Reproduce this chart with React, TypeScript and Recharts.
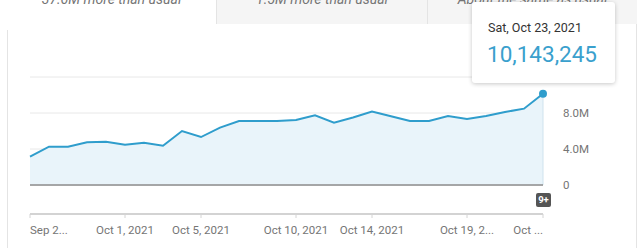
import React from 'react';
import { AreaChart, Area, XAxis, YAxis, CartesianGrid, ReferenceLine } from 'recharts';

const dates = [
    'Sep 26', 'Sep 27', 'Sep 28', 'Sep 29', 'Sep 30', 'Oct 1', 'Oct 2', 'Oct 3', 'Oct 4', 'Oct 5',
    'Oct 6', 'Oct 7', 'Oct 8', 'Oct 9', 'Oct 10', 'Oct 11', 'Oct 12', 'Oct 13', 'Oct 14', 'Oct 15',
    'Oct 16', 'Oct 17', 'Oct 18', 'Oct 19', 'Oct 20', 'Oct 21', 'Oct 22', 'Oct 23',
];
const views = [
    3140000, 4260000, 4260000, 4740000, 4810000, 4480000, 4700000, 4370000, 6000000, 5330000,
    6370000, 7110000, 7110000, 7110000, 7220000, 7740000, 6930000, 7500000, 8150000, 7630000,
    7110000, 7110000, 7670000, 7330000, 7670000, 8110000, 8480000, 10143245,
];
const tickDates = ['Sep 26', 'Oct 1', 'Oct 5', 'Oct 10', 'Oct 14', 'Oct 19', 'Oct 23'];
const tickLabels = ['Sep 2...', 'Oct 1, 2021', 'Oct 5, 2021', 'Oct 10, 2021', 'Oct 14, 2021', 'Oct 19, 2...', 'Oct ...'];
const yTicks = [0, 4000000, 8000000, 12000000];
const tabLabels = ['37.6M more than usual', '1.5M more than usual', 'About the same as usual'];
const tooltipDate = 'Sat, Oct 23, 2021';

const data = dates.map((d, i) => ({ date: d, views: views[i] }));
const last = data[data.length - 1];

const LINE = '#2f9dcc';

const formatY = (v: number) => (v === 0 ? '0' : (v / 1000000).toFixed(1) + 'M');

const DateTick = (props: any) => {
    const { x, y, payload, index } = props;
    const i = tickDates.indexOf(payload.value);
    const anchor = index === 0 ? 'start' : index === tickDates.length - 1 ? 'end' : 'middle';
    return (
        <text x={x} y={y} dy="0.35em" textAnchor={anchor} fill="#757575" fontSize={11.5}>
            {tickLabels[i]}
        </text>
    );
};

const LastDot = (props: any) => {
    const { cx, cy, index } = props;
    if (index !== data.length - 1) return <g key={index} />;
    return <circle key={index} cx={cx} cy={cy} r={4} fill={LINE} stroke="none" />;
};

const tabStyle = (left: number, width: number, grey: boolean): React.CSSProperties => ({
    position: 'absolute',
    left,
    top: 0,
    width,
    height: grey ? 24 : 30,
    background: grey ? '#f5f5f5' : '#fff',
    borderLeft: left > 7 ? '1px solid #e4e4e4' : 'none',
    boxSizing: 'border-box',
    overflow: 'hidden',
});

export default function App() {
    const tabs = [
        { left: 7, width: 209, grey: false },
        { left: 216, width: 211, grey: true },
        { left: 427, width: 210, grey: true },
    ];
    return (
        <div style={{ position: 'absolute', left: 0, top: 0, width: 640, height: 248, background: '#fff', overflow: 'hidden', fontFamily: 'Roboto, sans-serif' }}>
            <div style={{ position: 'absolute', left: 7, top: 0, width: 630, height: 248, borderLeft: '1px solid #e4e4e4', borderRight: '1px solid #e4e4e4', boxSizing: 'border-box' }} />
            {tabs.map((t, i) => (
                <div key={i} style={tabStyle(t.left, t.width, t.grey)}>
                    <div style={{ position: 'absolute', left: 0, right: 0, top: -10, textAlign: 'center', fontStyle: 'italic', fontSize: 14, lineHeight: '18px', color: '#757575' }}>
                        {tabLabels[i]}
                    </div>
                </div>
            ))}
            <div style={{ position: 'absolute', left: 0, top: 0 }}>
                <AreaChart width={640} height={248} data={data} margin={{ top: 77, right: 0, left: 30, bottom: 4 }}>
                    <CartesianGrid vertical={false} stroke="#e8e8e8" />
                    <XAxis
                        dataKey="date"
                        ticks={tickDates}
                        interval={0}
                        height={30}
                        axisLine={{ stroke: '#c8c8c8', strokeWidth: 1.5 }}
                        tickLine={{ stroke: '#d4d4d4' }}
                        tickSize={4}
                        tickMargin={12}
                        tick={<DateTick />}
                    />
                    <YAxis
                        orientation="right"
                        width={97}
                        domain={[-3222222, 12000000]}
                        ticks={yTicks}
                        tickFormatter={formatY}
                        axisLine={false}
                        tickLine={false}
                        tickMargin={14}
                        tick={{ fill: '#757575', fontSize: 11.5, textAnchor: 'start' }}
                    />
                    <Area
                        type="linear"
                        dataKey="views"
                        baseValue={0}
                        stroke={LINE}
                        strokeWidth={2}
                        fill="#e9f4fa"
                        fillOpacity={1}
                        dot={<LastDot />}
                        activeDot={false}
                        isAnimationActive={false}
                    />
                    <ReferenceLine
                        segment={[{ x: last.date, y: 0 }, { x: last.date, y: last.views }]}
                        stroke="#cfe3ee"
                    />
                    <ReferenceLine y={0} stroke="#8c8c8c" strokeWidth={1.5} />
                </AreaChart>
            </div>
            <div style={{ position: 'absolute', left: 536, top: 193, width: 15, height: 14, background: '#555', borderRadius: 2, color: '#fff', fontSize: 9.5, fontWeight: 'bold', lineHeight: '14px', textAlign: 'center' }}>
                9+
            </div>
            <div style={{ position: 'absolute', left: 472, top: 2, width: 143, height: 81, background: '#fff', borderRadius: 3, boxShadow: '0 1px 4px rgba(0,0,0,0.22)' }}>
                <div style={{ position: 'absolute', left: 16, top: 17, fontSize: 12.5, color: '#333', lineHeight: '18px', whiteSpace: 'nowrap' }}>{tooltipDate}</div>
                <div style={{ position: 'absolute', left: 15, top: 37, fontSize: 22.5, color: '#3aa0cd', lineHeight: '30px', whiteSpace: 'nowrap' }}>
                    {last.views.toLocaleString('en-US')}
                </div>
            </div>
        </div>
    );
}
